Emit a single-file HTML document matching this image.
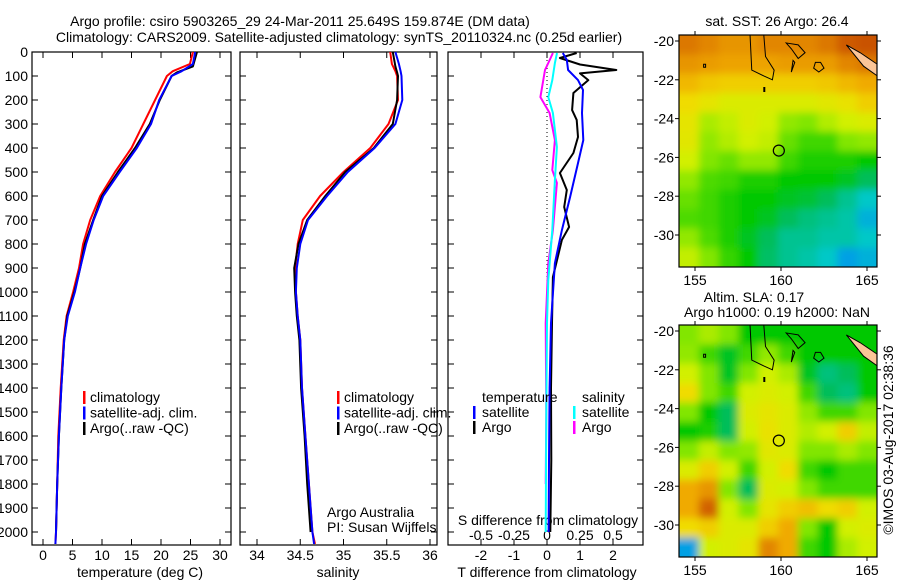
<!DOCTYPE html>
<html><head><meta charset="utf-8"><style>
html,body{margin:0;padding:0;background:#fff;}
svg{display:block;font-family:"Liberation Sans",sans-serif;}
text{font-size:14px;fill:#000;}
</style></head><body>
<svg id="c" width="900" height="580" viewBox="0 0 900 580">
<text x="300" y="26" text-anchor="middle">Argo profile: csiro 5903265_29 24-Mar-2011 25.649S 159.874E (DM data)</text>
<text x="339" y="42" text-anchor="middle">Climatology: CARS2009. Satellite-adjusted climatology: synTS_20110324.nc (0.25d earlier)</text>
<g id="g"></g>
</svg>
<script>
// ---- data ----
const depthT = [0,50,80,100,200,300,400,500,600,700,800,900,1000,1100,1200,1400,1600,1800,2000,2050];
const tempClim = [25.4,24.9,22,21,19,17,15,12.2,9.7,8,6.8,6.1,5.1,4.0,3.5,3.0,2.6,2.4,2.2,2.1];
const tempSat = [25.8,25.4,23.5,21.8,19.7,18.3,15.9,13,10.2,8.6,7.3,6.3,5.4,4.2,3.6,3.1,2.7,2.4,2.2,2.1];
const depthArgo = [0,60,85,100,200,300,400,500,600,700,800,900,1000,1100,1200,1400,1600,1800,2000];
const tempArgo = [26.1,25.4,22.7,21.8,19.8,18.1,15.6,12.7,10,8.5,7.1,6.3,5.3,4.1,3.6,3.1,2.7,2.4,2.2];
const salClim = [35.54,35.56,35.6,35.62,35.63,35.52,35.31,35.0,34.73,34.53,34.47,34.44,34.45,34.47,34.5,34.52,34.56,34.6,34.64,34.67];
const salSat = [35.6,35.64,35.66,35.67,35.68,35.6,35.36,35.05,34.81,34.59,34.5,34.46,34.45,34.47,34.5,34.52,34.56,34.6,34.64,34.66];
const salArgo = [35.57,35.6,35.62,35.63,35.62,35.57,35.35,35.02,34.79,34.58,34.48,34.43,34.44,34.46,34.49,34.51,34.55,34.58,34.62];
const dTSatDepth = [4,33,75,117,158,254,367,463,604,742,880,1129,1400,1700,2000];
const dTSat = [0.48,0.6,0.64,0.94,1.09,1.06,1.1,0.94,0.7,0.45,0.24,0.12,0.08,0.06,0.05];
const dTArgoDepth = [4,25,52,75,89,117,171,242,283,354,421,504,575,646,729,783,938,1129,1400,1700,2000];
const dTArgo = [0.9,0.39,1.0,2.1,1.0,1.25,0.8,0.76,0.9,0.94,0.8,0.39,0.6,0.52,0.67,0.45,0.18,0.15,0.12,0.13,0.1];
const dSSatDepth = [4,46,117,188,254,396,533,742,950,1129,1500,2000];
const dSSat = [0.076,0.06,0.04,0.01,0.045,0.075,0.06,0.04,0.01,0,-0.005,-0.01];
const dSArgoDepth = [4,46,75,188,254,367,492,546,742,880,1129,1500,1800];
const dSArgo = [0.045,0.01,-0.015,-0.05,0.02,0.06,0.04,0.075,0.045,0.01,-0.01,-0.005,-0.01];
const depthTicks = [0,100,200,300,400,500,600,700,800,900,1000,1100,1200,1300,1400,1500,1600,1700,1800,1900,2000];
const tempTicks = [0,5,10,15,20,25,30];
const salTicks = [34,34.5,35,35.5,36];
const salTickLabels = ["34","34.5","35","35.5","36"];
const dTTicks = [-2,-1,0,1,2];
const dSTicks = [-0.5,-0.25,0,0.25,0.5];
const dSTickLabels = ["-0.5","-0.25","0","0.25","0.5"];
const sstField = [
[.92,.9,.88,.88,.9,.9,.9,.92,.96,.97],
[.88,.87,.86,.86,.86,.87,.87,.87,.9,.92],
[.83,.81,.8,.8,.8,.8,.8,.81,.83,.85],
[.78,.75,.72,.72,.72,.72,.72,.74,.76,.8],
[.75,.65,.68,.72,.7,.62,.6,.66,.7,.72],
[.74,.62,.66,.7,.68,.58,.55,.55,.6,.62],
[.7,.6,.58,.62,.62,.55,.52,.52,.52,.5],
[.62,.56,.55,.52,.52,.5,.5,.5,.48,.45],
[.58,.55,.52,.5,.5,.48,.47,.45,.4,.35],
[.56,.55,.52,.5,.48,.45,.42,.4,.38,.32],
[.62,.56,.52,.48,.45,.4,.4,.38,.38,.35],
[.68,.6,.54,.5,.44,.4,.38,.35,.3,.32]];
const slaField = [
[.6,.65,.6,.5,.5,.5,.5,.5,.5,.5],
[.62,.55,.48,.55,.62,.55,.5,.5,.5,.5],
[.7,.6,.48,.6,.7,.65,.48,.42,.45,.5],
[.78,.6,.55,.7,.72,.7,.55,.45,.42,.5],
[.6,.5,.45,.72,.75,.72,.62,.55,.55,.6],
[.5,.52,.45,.7,.76,.72,.66,.7,.8,.68],
[.6,.68,.6,.62,.74,.72,.6,.6,.65,.6],
[.72,.8,.7,.55,.7,.78,.55,.5,.55,.55],
[.85,.88,.6,.45,.72,.7,.6,.55,.55,.55],
[.85,.95,.7,.6,.75,.8,.82,.78,.8,.7],
[.78,.8,.72,.72,.8,.85,.6,.5,.7,.72],
[.3,.7,.72,.75,.9,.85,.55,.5,.65,.7]];

const NS='http://www.w3.org/2000/svg';
const G=document.getElementById('g');
function mk(tag,attrs,parent){const e=document.createElementNS(NS,tag);for(const k in attrs)e.setAttribute(k,attrs[k]);(parent||G).appendChild(e);return e;}
const Y0=52,YB=545;
function yD(d){return Y0+0.24*d;}
function xT(t){return 43+5.9*t;}
function xS(s){return 257+86.5*(s-34);}
function xdT(v){return 547+33*v;}
function xdS(v){return 547+132*v;}

function panel(x0,x1,name){
  const r=mk('rect',{x:x0,y:Y0,width:x1-x0,height:YB-Y0,fill:'none',stroke:'#000','stroke-width':1.2});
  
  
  depthTicks.forEach(d=>{
    const y=yD(d);
    const t1=mk('line',{x1:x0,x2:x0+6,y1:y,y2:y,stroke:'#000'});
    
    
    const t2=mk('line',{x1:x1-6,x2:x1,y1:y,y2:y,stroke:'#000'});
    
    
  });
}
function xticks(vals,labels,fx,x0,x1,ly){
  vals.forEach((v,i)=>{
    const x=fx(v);
    const a=mk('line',{x1:x,x2:x,y1:Y0,y2:Y0+6,stroke:'#000'});
    
    
    const b=mk('line',{x1:x,x2:x,y1:YB-6,y2:YB,stroke:'#000'});
    
    
    if(ly){const t=mk('text',{x:x,y:ly,'text-anchor':'middle'});t.textContent=labels[i];
    
    }
  });
}
function line(depths,vals,fx,color,name,w){
  const pts=depths.map((d,i)=>fx(vals[i]).toFixed(1)+','+yD(d).toFixed(1)).join(' ');
  const p=mk('polyline',{points:pts,fill:'none',stroke:color,'stroke-width':w||2,'stroke-linejoin':'round'});
  
  
}
function txt(x,y,s,name,anchor,extra){
  const t=mk('text',Object.assign({x:x,y:y,'text-anchor':anchor||'start'},extra||{}));t.textContent=s;
  
  
  return t;
}
function legendMark(x,y,color){
  const m=mk('rect',{x:x,y:y-11,width:2.5,height:13,fill:color});
  
  
}

// panel 1
panel(32,231,'temperature-panel');
depthTicks.forEach(d=>{txt(28,yD(d)+5,String(d),'depth-label','end');});
xticks(tempTicks,tempTicks.map(String),xT,32,231,560);
txt(140,577,'temperature (deg C)','temperature-axis-title','middle');
line(depthT,tempClim,xT,'#f00','temp-climatology-line');
line(depthArgo,tempArgo,xT,'#000','temp-argo-line');
line(depthT,tempSat,xT,'#00f','temp-satellite-line');
[['climatology','#f00'],['satellite-adj. clim.','#00f'],['Argo(..raw -QC)','#000']].forEach((l,i)=>{
  const y=402+i*15.5;legendMark(83,y,l[1]);txt(90,y,l[0],'temp-legend-entry');
});
// panel 2
panel(240,437,'salinity-panel');
xticks(salTicks,salTickLabels,xS,240,437,560);
txt(338,577,'salinity','salinity-axis-title','middle');
line(depthT,salClim,xS,'#f00','sal-climatology-line');
line(depthArgo,salArgo,xS,'#000','sal-argo-line');
line(depthT,salSat,xS,'#00f','sal-satellite-line');
[['climatology','#f00'],['satellite-adj. clim.','#00f'],['Argo(..raw -QC)','#000']].forEach((l,i)=>{
  const y=402+i*15.5;legendMark(337,y,l[1]);txt(344,y,l[0],'sal-legend-entry');
});
txt(327,517,'Argo Australia','argo-australia-label');
txt(327,532,'PI: Susan Wijffels','pi-label');
// panel 3
panel(448,643,'difference-panel');
xticks(dTTicks,dTTicks.map(String),xdT,448,643,560);
dSTicks.forEach((v,i)=>{txt(xdS(v),540,dSTickLabels[i],'s-diff-tick-label','middle');});
txt(548,525,'S difference from climatology','s-diff-axis-title','middle');
txt(547,577,'T difference from climatology','t-diff-axis-title','middle');
const zl=mk('line',{x1:xdT(0),x2:xdT(0),y1:yD(0),y2:yD(1000),stroke:'#000','stroke-dasharray':'1,3'});


line(dSArgoDepth,dSArgo,xdS,'#f0f','s-diff-argo-line');
line(dSSatDepth,dSSat,xdS,'#0ff','s-diff-satellite-line');
line(dTArgoDepth,dTArgo,xdT,'#000','t-diff-argo-line');
line(dTSatDepth,dTSat,xdT,'#00f','t-diff-satellite-line');
txt(482,402,'temperature','diff-legend-temperature');
legendMark(473,417,'#00f');txt(482,417,'satellite','diff-legend-t-satellite');
legendMark(473,432,'#000');txt(482,432,'Argo','diff-legend-t-argo');
txt(582,402,'salinity','diff-legend-salinity');
legendMark(573,417,'#0ff');txt(582,417,'satellite','diff-legend-s-satellite');
legendMark(573,432,'#f0f');txt(582,432,'Argo','diff-legend-s-argo');

// ---- maps ----
const stops=[[0.25,[0,120,255]],[0.35,[0,200,200]],[0.45,[0,190,90]],[0.5,[0,200,0]],[0.6,[130,230,0]],[0.7,[210,240,0]],[0.78,[240,220,0]],[0.85,[240,170,0]],[0.92,[220,120,0]],[1,[190,60,0]]];
function cmap(v){
  if(v<=stops[0][0])return 'rgb('+stops[0][1]+')';
  for(let i=1;i<stops.length;i++){if(v<=stops[i][0]){const a=stops[i-1],b=stops[i],f=(v-a[0])/(b[0]-a[0]);
    return 'rgb('+a[1].map((c,k)=>Math.round(c+(b[1][k]-c)*f)).join(',')+')';}}
  return 'rgb('+stops[stops.length-1][1]+')';
}
const defs=mk('defs',{});
const flt=mk('filter',{id:'bl',x:'-10%',y:'-10%',width:'120%',height:'120%'},defs);
mk('feGaussianBlur',{stdDeviation:4},flt);
function map(id,top,field){
  const X0=679,X1=877,Y1=top+232;
  const cp=mk('clipPath',{id:'cp'+id},defs);
  mk('rect',{x:X0,y:top,width:X1-X0,height:Y1-top},cp);
  const g=mk('g',{'clip-path':'url(#cp'+id+')'});
  
  
  const inner=mk('g',{filter:'url(#bl)'},g);
  const rows=field.length,cols=field[0].length,cw=(X1-X0)/cols,ch=(Y1-top)/rows;
  field.forEach((row,r)=>row.forEach((v,c)=>{
    const cell=mk('rect',{x:X0+c*cw-(c==0?15:0),y:top+r*ch-(r==0?15:0),width:cw+1+(c==0||c==cols-1?15:0),height:ch+1+(r==0||r==rows-1?15:0),fill:cmap(v)},inner);
    
    
  }));
  const lx=lon=>781+(lon-160)*17.2, ly=lat=>top+6+(-20-lat)*19.4;
  const coast=mk('path',{d:`M${lx(158.2)},${top} L${lx(158.3)},${ly(-21.5)} L${lx(159)},${ly(-21.8)} L${lx(159.5)},${ly(-22)} L${lx(159.6)},${ly(-21.5)} L${lx(159.1)},${ly(-20.8)} L${lx(159)},${top}
   M${lx(160.3)},${ly(-20.1)} L${lx(161)},${ly(-20.2)} L${lx(161.4)},${ly(-20.6)} L${lx(161)},${ly(-20.9)} L${lx(160.6)},${ly(-20.4)} Z
   M${lx(160.7)},${ly(-21)} L${lx(160.6)},${ly(-21.6)} L${lx(160.8)},${ly(-21.1)} Z
   M${lx(162)},${ly(-21.1)} L${lx(162.3)},${ly(-21.1)} L${lx(162.5)},${ly(-21.4)} L${lx(162.2)},${ly(-21.6)} L${lx(161.9)},${ly(-21.4)} Z
   M${lx(155.5)},${ly(-21.2)} l2,0 l0,3 l-2,0 Z M${lx(159)},${ly(-22.4)} l1,0 l0,4 l-1,0 Z`,fill:'none',stroke:'#000','stroke-width':1},g);
  
  
  const nc=mk('path',{d:`M${lx(163.8)},${ly(-20.2)} L${lx(164.6)},${ly(-20.6)} L${lx(165.6)},${ly(-21.2)} L${lx(165.6)},${ly(-21.8)} L${lx(164.8)},${ly(-21.3)} Z`,fill:'#fbc597',stroke:'#000','stroke-width':1},g);
  
  
  const circ=mk('circle',{cx:lx(159.874),cy:ly(-25.649),r:5.5,fill:'none',stroke:'#000','stroke-width':1.2});
  
  
  const fr=mk('rect',{x:X0,y:top,width:X1-X0,height:Y1-top,fill:'none',stroke:'#000','stroke-width':1.2});
  
  
  [-20,-22,-24,-26,-28,-30].forEach(lat=>{
    const y=ly(lat);
    const a=mk('line',{x1:X0-4,x2:X0,y1:y,y2:y,stroke:'#000'});
    
    
    const b=mk('line',{x1:X1,x2:X1+4,y1:y,y2:y,stroke:'#000'});
    
    
    txt(X0-5,y+5,String(lat),'lat-label','end');
  });
  [155,160,165].forEach(lon=>{
    const x=lx(lon);
    const a=mk('line',{x1:x,x2:x,y1:top-4,y2:top,stroke:'#000'});
    
    
    const b=mk('line',{x1:x,x2:x,y1:Y1,y2:Y1+4,stroke:'#000'});
    
    
    txt(x,Y1+18,String(lon),'lon-label','middle');
  });
}
map('sst',35,sstField);
map('sla',325,slaField);
txt(777,26,'sat. SST: 26 Argo: 26.4','sst-map-title','middle');
txt(754,302,'Altim. SLA: 0.17','sla-map-title','middle');
txt(777,317,'Argo h1000: 0.19 h2000: NaN','sla-map-subtitle','middle');
txt(0,0,'©IMOS 03-Aug-2017 02:38:36','imos-credit','middle',{transform:'translate(893,440) rotate(-90)'});
</script>
</body></html>
